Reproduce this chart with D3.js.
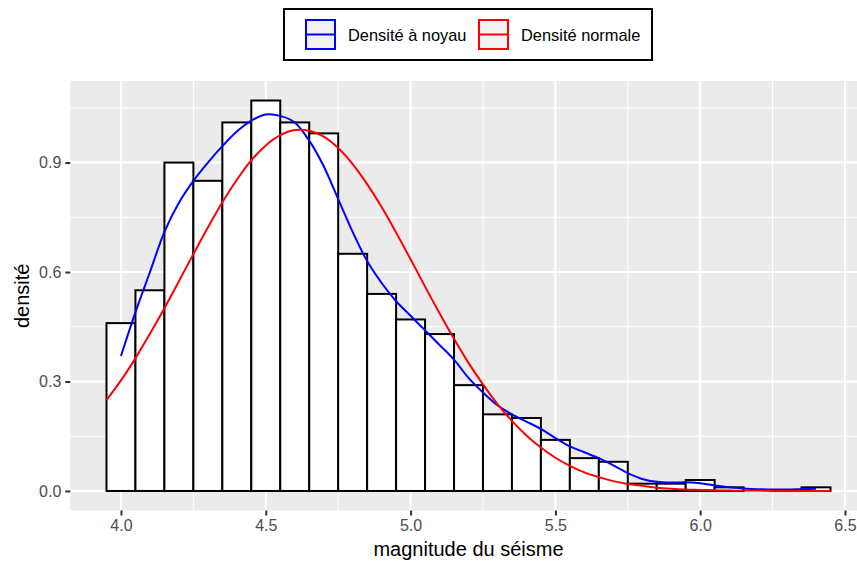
<!DOCTYPE html>
<html>
<head>
<meta charset="utf-8">
<script src="https://cdn.jsdelivr.net/npm/d3@7"></script>
<style>
	body { margin: 0; background: #ffffff; }
	svg { display: block; font-family: 'Liberation Sans', Arial, sans-serif; }
</style>
</head>
<body>
<svg id="chart" width="857" height="561"></svg>
<script>

// histogram: bin centres (width 0.1) and density
var aBinCentres = [4.0, 4.1, 4.2, 4.3, 4.4, 4.5, 4.6, 4.7, 4.8, 4.9, 5.0, 5.1, 5.2, 5.3, 5.4, 5.5, 5.6, 5.7, 5.8, 5.9, 6.0, 6.1, 6.2, 6.3, 6.4];
var aBinDensity = [0.46, 0.55, 0.90, 0.85, 1.01, 1.07, 1.01, 0.98, 0.65, 0.54, 0.47, 0.43, 0.29, 0.21, 0.20, 0.14, 0.09, 0.08, 0.02, 0.02, 0.03, 0.01, 0, 0, 0.01];
var fBinWidth = 0.1;

// kernel density (blue)
var aKernelX = [4.00, 4.05, 4.10, 4.15, 4.20, 4.25, 4.30, 4.35, 4.40, 4.45, 4.50, 4.55, 4.60, 4.65, 4.70, 4.75, 4.80, 4.85, 4.90, 4.95,
	5.00, 5.05, 5.10, 5.15, 5.20, 5.25, 5.30, 5.35, 5.40, 5.45, 5.50, 5.55, 5.60, 5.65, 5.70, 5.75, 5.80, 5.85, 5.90, 5.95,
	6.00, 6.05, 6.10, 6.15, 6.20, 6.25, 6.30, 6.35, 6.40];
var aKernelY = [0.37, 0.49, 0.60, 0.71, 0.79, 0.85, 0.90, 0.945, 0.985, 1.015, 1.032, 1.028, 1.010, 0.96, 0.89, 0.80, 0.71, 0.63, 0.57, 0.52,
	0.48, 0.44, 0.40, 0.36, 0.31, 0.27, 0.235, 0.21, 0.19, 0.17, 0.145, 0.122, 0.106, 0.090, 0.070, 0.049, 0.033, 0.025, 0.023, 0.024,
	0.021, 0.015, 0.010, 0.007, 0.005, 0.004, 0.004, 0.005, 0.006];

// normal density (red)
var aNormalX = [3.95, 4.00, 4.05, 4.10, 4.15, 4.20, 4.25, 4.30, 4.35, 4.40, 4.45, 4.50, 4.55, 4.60, 4.65, 4.70, 4.75, 4.80, 4.85, 4.90,
	4.95, 5.00, 5.05, 5.10, 5.15, 5.20, 5.25, 5.30, 5.35, 5.40, 5.45, 5.50, 5.55, 5.60, 5.65, 5.70, 5.75, 5.80, 5.85, 5.90,
	5.95, 6.00, 6.05, 6.10, 6.15, 6.20, 6.25, 6.30, 6.35, 6.40, 6.45];
var aNormalY = [0.249, 0.303, 0.364, 0.431, 0.501, 0.575, 0.649, 0.722, 0.791, 0.853, 0.906, 0.947, 0.975, 0.989, 0.987, 0.971, 0.940, 0.896, 0.841, 0.778,
	0.708, 0.635, 0.560, 0.487, 0.417, 0.351, 0.292, 0.238, 0.192, 0.152, 0.119, 0.091, 0.069, 0.051, 0.038, 0.027, 0.019, 0.014, 0.009, 0.006,
	0.004, 0.003, 0.002, 0.001, 0.001, 0.001, 0, 0, 0, 0, 0];

var aTicksX = [4.0, 4.5, 5.0, 5.5, 6.0, 6.5];
var aMinorX = [4.25, 4.75, 5.25, 5.75, 6.25];
var aTicksY = [0.0, 0.3, 0.6, 0.9];
var aMinorY = [0.15, 0.45, 0.75, 1.05];

var aLegend = [
	{ 'label': 'Densité à noyau', 'color': '#0000ff' },
	{ 'label': 'Densité normale', 'color': '#ff0000' }
];

var sSvg = d3.select('#chart');

var nPanelLeft = 70.3;
var nPanelRight = 866.7;
var nPanelTop = 81;
var nPanelBottom = 510.5;

var scaleX = d3.scaleLinear()
	.domain([3.825, 6.575])
	.range([nPanelLeft, nPanelRight]);

var scaleY = d3.scaleLinear()
	.domain([-0.0535, 1.1235])
	.range([nPanelBottom, nPanelTop]);

// panel background
sSvg.append('rect')
	.attr('x', nPanelLeft)
	.attr('y', nPanelTop)
	.attr('width', nPanelRight - nPanelLeft)
	.attr('height', nPanelBottom - nPanelTop)
	.attr('fill', '#ebebeb');

var sGrid = sSvg.append('g');

// minor grid
aMinorX.forEach(function(fValue)
{
	sGrid.append('line')
		.attr('x1', scaleX(fValue)).attr('x2', scaleX(fValue))
		.attr('y1', nPanelTop).attr('y2', nPanelBottom)
		.attr('stroke', '#ffffff').attr('stroke-width', 1);
});
aMinorY.forEach(function(fValue)
{
	sGrid.append('line')
		.attr('x1', nPanelLeft).attr('x2', nPanelRight)
		.attr('y1', scaleY(fValue)).attr('y2', scaleY(fValue))
		.attr('stroke', '#ffffff').attr('stroke-width', 1);
});

// major grid
aTicksX.forEach(function(fValue)
{
	sGrid.append('line')
		.attr('x1', scaleX(fValue)).attr('x2', scaleX(fValue))
		.attr('y1', nPanelTop).attr('y2', nPanelBottom)
		.attr('stroke', '#ffffff').attr('stroke-width', 2);
});
aTicksY.forEach(function(fValue)
{
	sGrid.append('line')
		.attr('x1', nPanelLeft).attr('x2', nPanelRight)
		.attr('y1', scaleY(fValue)).attr('y2', scaleY(fValue))
		.attr('stroke', '#ffffff').attr('stroke-width', 2);
});

// histogram bars
sSvg.append('g')
	.selectAll('rect')
	.data(aBinCentres)
	.enter()
		.append('rect')
			.attr('x', function(fCentre) { return scaleX(fCentre - fBinWidth / 2); })
			.attr('width', function(fCentre) { return scaleX(fCentre + fBinWidth / 2) - scaleX(fCentre - fBinWidth / 2); })
			.attr('y', function(fCentre, i) { return scaleY(aBinDensity[i]); })
			.attr('height', function(fCentre, i) { return scaleY(0) - scaleY(aBinDensity[i]); })
			.attr('fill', '#ffffff')
			.attr('stroke', '#000000')
			.attr('stroke-width', 2);

var lineGen = d3.line()
	.x(function(d) { return scaleX(d[0]); })
	.y(function(d) { return scaleY(d[1]); })
	.curve(d3.curveCatmullRom.alpha(0.5));

sSvg.append('path')
	.datum(aKernelX.map(function(fX, i) { return [fX, aKernelY[i]]; }))
	.attr('d', lineGen)
	.attr('fill', 'none')
	.attr('stroke', aLegend[0].color)
	.attr('stroke-width', 2);

sSvg.append('path')
	.datum(aNormalX.map(function(fX, i) { return [fX, aNormalY[i]]; }))
	.attr('d', lineGen)
	.attr('fill', 'none')
	.attr('stroke', aLegend[1].color)
	.attr('stroke-width', 2);

// axes
var axisX = d3.axisBottom(scaleX)
	.tickValues(aTicksX)
	.tickSize(5)
	.tickPadding(4)
	.tickFormat(d3.format('.1f'));

var axisY = d3.axisLeft(scaleY)
	.tickValues(aTicksY)
	.tickSize(5)
	.tickPadding(4)
	.tickFormat(d3.format('.1f'));

var sAxisX = sSvg.append('g')
	.attr('transform', 'translate(0,' + nPanelBottom + ')')
	.call(axisX);

var sAxisY = sSvg.append('g')
	.attr('transform', 'translate(' + nPanelLeft + ',0)')
	.call(axisY);

[sAxisX, sAxisY].forEach(function(sAxis)
{
	sAxis.select('.domain').remove();
	sAxis.selectAll('.tick line').attr('stroke', '#333333').attr('stroke-width', 2);
	sAxis.selectAll('.tick text')
		.attr('fill', '#4d4d4d')
		.style('font-size', '16px')
		.style('font-family', "'Liberation Sans', Arial, sans-serif");
});

// axis titles
sSvg.append('text')
	.attr('x', (nPanelLeft + 866.7) / 2)
	.attr('y', 556)
	.attr('text-anchor', 'middle')
	.style('font-size', '20px')
	.attr('fill', '#000000')
	.text('magnitude du séisme');

sSvg.append('text')
	.attr('transform', 'translate(29,' + ((nPanelTop + nPanelBottom) / 2) + ') rotate(-90)')
	.attr('text-anchor', 'middle')
	.style('font-size', '20px')
	.attr('fill', '#000000')
	.text('densité');

// legend
var sLegend = sSvg.append('g');

sLegend.append('rect')
	.attr('x', 284)
	.attr('y', 9)
	.attr('width', 368)
	.attr('height', 51)
	.attr('fill', '#ffffff')
	.attr('stroke', '#000000')
	.attr('stroke-width', 2);

var aKeyX = [305, 478];
aLegend.forEach(function(item, i)
{
	var nKeyX = aKeyX[i];
	sLegend.append('rect')
		.attr('x', nKeyX + 1)
		.attr('y', 20)
		.attr('width', 29)
		.attr('height', 29)
		.attr('fill', '#f2f2f2')
		.attr('stroke', item.color)
		.attr('stroke-width', 2);
	sLegend.append('line')
		.attr('x1', nKeyX + 1)
		.attr('x2', nKeyX + 30)
		.attr('y1', 34.5)
		.attr('y2', 34.5)
		.attr('stroke', item.color)
		.attr('stroke-width', 2);
	sLegend.append('text')
		.attr('x', nKeyX + 43)
		.attr('y', 40.5)
		.style('font-size', '16.4px')
		.attr('fill', '#000000')
		.text(item.label);
});

</script>
</body>
</html>
